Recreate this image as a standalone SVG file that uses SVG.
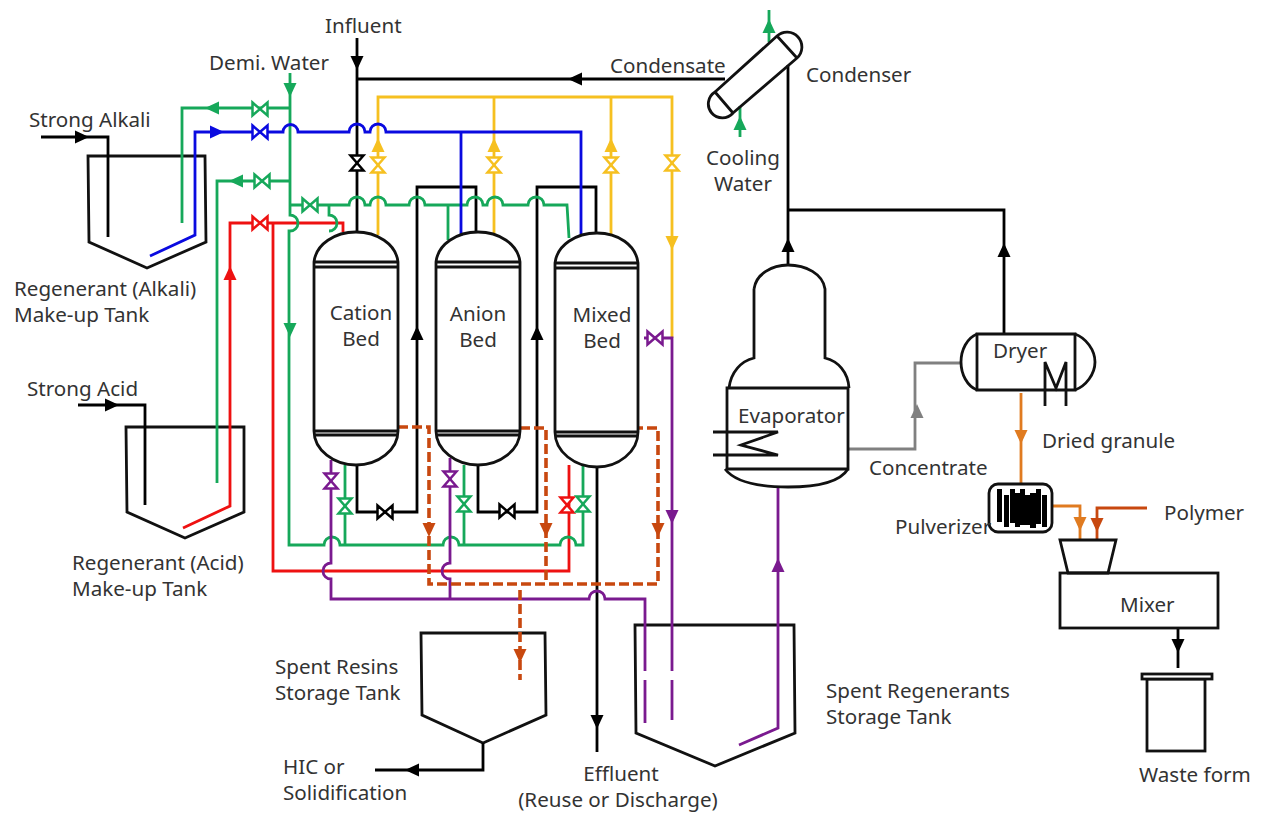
<svg xmlns="http://www.w3.org/2000/svg" width="1261" height="813" viewBox="0 0 1261 813">
<style>
text{font-family:"Noto Sans","Open Sans","Liberation Sans",sans-serif;font-size:20.6px;fill:#333}
.m{text-anchor:middle}
.eq{fill:none;stroke:#111;stroke-width:2.8;stroke-linejoin:miter}
.eqf{fill:#fff;stroke:#111;stroke-width:2.8}
.p{fill:none;stroke-width:2.8;stroke-linejoin:miter}
.k{stroke:#000;color:#000}.g{stroke:#16a85a;color:#16a85a}.b{stroke:#0a0ae0;color:#0a0ae0}.r{stroke:#ee1111;color:#ee1111}.y{stroke:#f6c020;color:#f6c020}.u{stroke:#7a1a8f;color:#7a1a8f}.o{stroke:#e07b20;color:#e07b20}.n{stroke:#c8480f;color:#c8480f}.s{stroke:#808080;color:#808080}
.d{stroke-dasharray:10 4;stroke-width:3.6}
.v{fill:#fff;stroke:currentColor;stroke-width:2.5}
.a{fill:currentColor;stroke:none}
</style>
<defs>
<path id="va" d="M-7.5,-6.5 L7.5,6.5 V-6.5 L-7.5,6.5 Z"/>
<path id="ar" d="M-6.5,-7 L6.5,-7 L0,7 Z"/>
</defs>
<rect width="1261" height="813" fill="#fff"/>

<g id="alkali-tank"><path class="eq" d="M88,156 H205 L206,242 L147,268 L89,242 Z"/></g>
<g id="acid-tank"><path class="eq" d="M126,427 H244 V512 L185,538 L127,512 Z"/></g>
<g id="resin-tank"><path class="eq" d="M421,633 H545 L546,715 L483,743 L422,715 Z"/></g>
<g id="regen-tank"><path class="eq" d="M635,625 H794 L795,733 L715,766 L636,733 Z"/></g>

<g id="connectors">
<g class="k">
<path class="p" d="M41,137 H108 V237"/><use href="#ar" class="a" transform="translate(82,137) rotate(-90)"/>
<path class="p" d="M78,405 H145 V505"/><use href="#ar" class="a" transform="translate(112,405) rotate(-90)"/>
<path class="p" d="M357,38 V232"/><use href="#ar" class="a" transform="translate(357,63)"/>
<path class="p" d="M357,79 H725"/><use href="#ar" class="a" transform="translate(575,79) rotate(90)"/>
<path class="p" d="M357,465 V512 H417 V187 H476 V232"/><use href="#ar" class="a" transform="translate(417,333) rotate(180)"/>
<path class="p" d="M478,465 V512 H537 V187 H596 V232"/><use href="#ar" class="a" transform="translate(537,333) rotate(180)"/>
<path class="p" d="M597,467 V752"/><use href="#ar" class="a" transform="translate(597,722)"/>
<path class="p" d="M483,743 V770 H375"/><use href="#ar" class="a" transform="translate(412,770) rotate(90)"/>
<path class="p" d="M788,265 V65"/><use href="#ar" class="a" transform="translate(788,245) rotate(180)"/>
<path class="p" d="M788,210 H1004 V334"/><use href="#ar" class="a" transform="translate(1004,250) rotate(180)"/>
<path class="p" d="M1178,628 V668"/><use href="#ar" class="a" transform="translate(1178,646)"/>
<use href="#va" class="v" transform="translate(357,163) rotate(90)"/>
<use href="#va" class="v" transform="translate(385,512)"/>
<use href="#va" class="v" transform="translate(507,511)"/>
</g>
<g class="y">
<path class="p" d="M378,235 V97 H672 V338"/>
<path class="p" d="M494,97 V235"/><path class="p" d="M611,97 V235"/>
<use href="#ar" class="a" transform="translate(378,145) rotate(180)"/>
<use href="#ar" class="a" transform="translate(494,145) rotate(180)"/>
<use href="#ar" class="a" transform="translate(611,145) rotate(180)"/>
<use href="#ar" class="a" transform="translate(672,243)"/>
<use href="#va" class="v" transform="translate(378,165) rotate(90)"/>
<use href="#va" class="v" transform="translate(494,165) rotate(90)"/>
<use href="#va" class="v" transform="translate(611,165) rotate(90)"/>
<use href="#va" class="v" transform="translate(672,163) rotate(90)"/>
</g>
<g class="r">
<path class="p" d="M183,528 L230,506 V223 H343 V232"/>
<path class="p" d="M273,223 V571 H569 V465"/>
<use href="#ar" class="a" transform="translate(230,273) rotate(180)"/>
<use href="#va" class="v" transform="translate(260,223)"/>
<use href="#va" class="v" transform="translate(567,505) rotate(90)"/>
</g>
<g class="g">
<path class="p" d="M182,223 V108 H290"/>
<path class="p" d="M217,483 V181 H290"/>
<path class="p" d="M290,73 V215 a8,8 0 0 1 0,16 L289,231 V545 H324 a8,8 0 0 1 16,0 H443 a8,8 0 0 1 16,0 H560 a8,8 0 0 1 16,0 H583 V465"/>
<path class="p" d="M345,465 V545"/><path class="p" d="M464,465 V545"/>
<path class="p" d="M290,205 H349 a8,8 0 0 1 16,0 H370 a8,8 0 0 1 16,0 H409 a8,8 0 0 1 16,0 H467 a8,8 0 0 1 16,0 H487 a8,8 0 0 1 16,0 H528 a8,8 0 0 1 16,0 H567 L569,238"/>
<path class="p" d="M329,205 V215 a8,8 0 0 1 0,16"/>
<path class="p" d="M448,205 V240"/>
<use href="#ar" class="a" transform="translate(290,90)"/>
<use href="#ar" class="a" transform="translate(212,108) rotate(90)"/>
<use href="#ar" class="a" transform="translate(236,181) rotate(90)"/>
<use href="#ar" class="a" transform="translate(290,330)"/>
<use href="#ar" class="a" transform="translate(769,26) rotate(180)"/>
<use href="#ar" class="a" transform="translate(740,123) rotate(180)"/>
<path class="p" d="M769,10 V42"/><path class="p" d="M740,137 V106"/>
<use href="#va" class="v" transform="translate(260,109)"/>
<use href="#va" class="v" transform="translate(262,181)"/>
<use href="#va" class="v" transform="translate(310,205)"/>
<use href="#va" class="v" transform="translate(345,506) rotate(90)"/>
<use href="#va" class="v" transform="translate(464,504) rotate(90)"/>
<use href="#va" class="v" transform="translate(583,504) rotate(90)"/>
</g>
<g class="b">
<path class="p" d="M150,256 L195,235 V132 H283 a7.5,7.5 0 0 1 15,0 H349 a8,8 0 0 1 16,0 H370 a8,8 0 0 1 16,0 H581 V236"/>
<path class="p" d="M461,132 V236"/>
<use href="#ar" class="a" transform="translate(217,132) rotate(-90)"/>
<use href="#va" class="v" transform="translate(260,132)"/>
</g>
<g class="u">
<path class="p" d="M331,460 V563 a8,8 0 0 0 0,16 V599 H589 a8,8 0 0 1 16,0 H645 V671 M645,680 V723"/>
<path class="p" d="M450,458 V563 a8,8 0 0 0 0,16 V599"/>
<path class="p" d="M644,338 H672 V671 M672,680 V720"/>
<path class="p" d="M739,745 L778,728 V488"/>
<use href="#ar" class="a" transform="translate(672,517)"/>
<use href="#ar" class="a" transform="translate(778,565) rotate(180)"/>
<use href="#va" class="v" transform="translate(655,338)"/>
<use href="#va" class="v" transform="translate(331,481) rotate(90)"/>
<use href="#va" class="v" transform="translate(450,479) rotate(90)"/>
</g>
<g class="n">
<path class="p d" d="M398,427 H429 V584 H658 V428 H638"/>
<path class="p d" d="M520,428 H546 V584"/>
<path class="p d" d="M520,590 V680"/>
<use href="#ar" class="a" transform="translate(429,530)"/>
<use href="#ar" class="a" transform="translate(546,530)"/>
<use href="#ar" class="a" transform="translate(658,530)"/>
<use href="#ar" class="a" transform="translate(520,656)"/>
</g>
<g class="s">
<path class="p" d="M848,449 H915 V363 H960"/>
<use href="#ar" class="a" transform="translate(917,411) rotate(180)"/>
</g>
<g class="o">
<path class="p" d="M1021,393 V485"/><use href="#ar" class="a" transform="translate(1021,437)"/>
<path class="p" d="M1052,506 H1080 V540"/><use href="#ar" class="a" transform="translate(1080,524)"/>
</g>
<g class="n">
<path class="p" d="M1147,508 H1097 V540"/><use href="#ar" class="a" transform="translate(1097,525)"/>
</g>
</g>

<g id="cation-bed">
<path class="eq" d="M314,262 C316,244 335,232 356,232 C377,232 396,244 398,262 V431 C398,450 378,465 356,465 C334,465 314,450 314,431 Z"/>
<path class="eq" d="M314,262 H398 M314,267 H398 M314,431 H398 M314,435 H398"/>
<text class="m" x="361" y="320">Cation</text><text class="m" x="361" y="346">Bed</text>
</g>
<g id="anion-bed">
<path class="eq" d="M436,262 C438,244 457,232 478,232 C499,232 518,244 520,262 V431 C520,450 500,465 478,465 C456,465 436,450 436,431 Z"/>
<path class="eq" d="M436,262 H520 M436,267 H520 M436,431 H520 M436,435 H520"/>
<text class="m" x="478" y="321">Anion</text><text class="m" x="478" y="347">Bed</text>
</g>
<g id="mixed-bed">
<path class="eq" d="M555,263 C557,245 576,233 597,233 C618,233 636,245 638,263 V432 C638,452 618,467 597,467 C575,467 555,452 555,432 Z"/>
<path class="eq" d="M555,263 H638 M555,268 H638 M555,432 H638 M555,436 H638"/>
<text class="m" x="602" y="322">Mixed</text><text class="m" x="602" y="348">Bed</text>
</g>

<g id="evaporator">
<path class="eq" d="M754,289 C756,274 772,265 788,265 C806,265 823,274 825,289 V358 C838,361 848,372 849,388 M754,289 V358 C741,361 731,372 729,388"/>
<path class="eq" d="M727,388 H848 V469 H727 Z"/>
<path class="eq" d="M725,469 C735,482 760,487 788,487 C816,487 840,482 848,469"/>
<path class="eq" d="M713,432 H778 L741,445 L778,455 H713"/>
<text x="738" y="423">Evaporator</text>
</g>

<g id="condenser">
<path class="eq" d="M715,92 L777,36 A14,14 0 1 1 797,58 L733,113 A14,14 0 1 1 715,92 Z M715,92 L733,113 M777,36 L797,58"/>
</g>

<g id="dryer">
<path class="eq" d="M977,334 H1075 V390 H977 Z"/>
<path class="eq" d="M977,334 C967,338 961,350 961,362 C961,374 967,386 977,390 M1075,334 C1086,338 1095,350 1095,362 C1095,374 1086,386 1075,390"/>
<path class="eq" d="M1045,406 V362 L1056,388 L1066,362 V406"/>
<text x="993" y="358">Dryer</text>
</g>

<g id="pulverizer">
<rect class="eqf" x="989" y="484" width="63" height="48" rx="9"/>
<g fill="#000">
<rect x="997" y="489" width="5" height="33"/><rect x="1004" y="495" width="5" height="32"/>
<rect x="1010" y="489" width="5" height="34"/><rect x="1015" y="493" width="5" height="34"/>
<rect x="1020" y="489" width="5" height="36"/><rect x="1025" y="495" width="5" height="30"/>
<rect x="1030" y="493" width="6" height="35"/><rect x="1036" y="489" width="5" height="35"/>
<rect x="1042" y="495" width="5" height="32"/>
</g>
</g>

<g id="mixer">
<path class="eq" d="M1060,540 H1116 L1108,573 H1068 Z"/>
<rect class="eq" x="1060" y="573" width="158" height="55"/>
<text x="1120" y="612">Mixer</text>
</g>

<g id="waste-drum">
<rect class="eq" x="1147" y="679" width="58" height="72"/>
<rect class="eqf" x="1142" y="674" width="70" height="5"/>
</g>

<g id="labels">
<text x="325" y="33">Influent</text>
<text x="209" y="70">Demi. Water</text>
<text x="29" y="127">Strong Alkali</text>
<text x="14" y="296">Regenerant (Alkali)</text>
<text x="14" y="322">Make-up Tank</text>
<text x="27" y="396">Strong Acid</text>
<text x="72" y="570">Regenerant (Acid)</text>
<text x="72" y="596">Make-up Tank</text>
<text x="610" y="73">Condensate</text>
<text x="806" y="82">Condenser</text>
<text class="m" x="743" y="165">Cooling</text>
<text class="m" x="743" y="191">Water</text>
<text x="869" y="475">Concentrate</text>
<text x="1042" y="448">Dried granule</text>
<text x="895" y="534">Pulverizer</text>
<text x="1164" y="520">Polymer</text>
<text x="1139" y="782">Waste form</text>
<text x="275" y="674">Spent Resins</text>
<text x="275" y="700">Storage Tank</text>
<text x="283" y="774">HIC or</text>
<text x="283" y="800">Solidification</text>
<text class="m" x="621" y="781">Effluent</text>
<text class="m" x="618" y="807">(Reuse or Discharge)</text>
<text x="826" y="698">Spent Regenerants</text>
<text x="826" y="724">Storage Tank</text>
</g>
</svg>
